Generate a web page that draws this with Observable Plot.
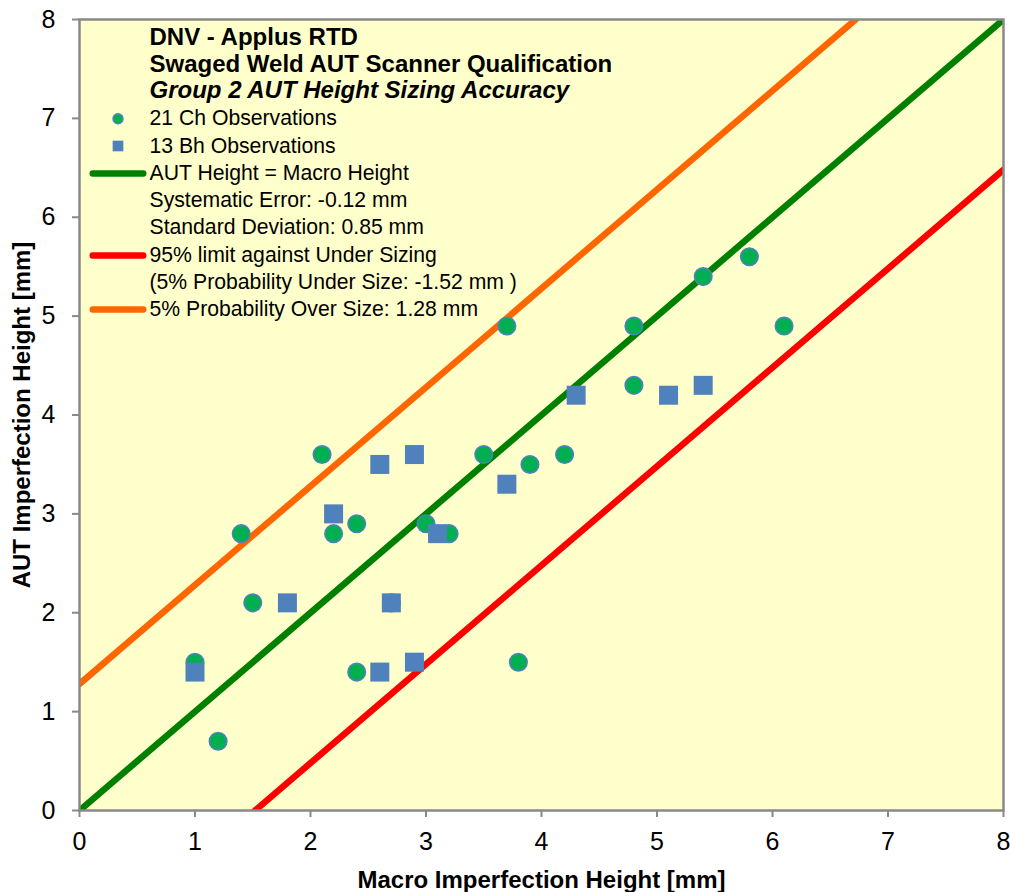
<!DOCTYPE html>
<html>
<head>
<meta charset="utf-8">
<script src="https://cdn.jsdelivr.net/npm/d3@7"></script>
<script src="https://cdn.jsdelivr.net/npm/@observablehq/plot@0.6"></script>
<style>
  html, body { margin: 0; padding: 0; background: #ffffff; }
  #chart svg { display: block; }
</style>
</head>
<body>
<div id="chart"></div>
<script>
// Group 2 height sizing: macro (true) height vs AUT measured height, in mm
const chMacro = [1.0, 1.2, 1.4, 1.5, 2.1, 2.2, 2.4, 2.4, 2.7, 3.0, 3.2, 3.5, 3.7, 3.8, 3.9, 4.2, 4.8, 4.8, 5.4, 5.8, 6.1];
const chAut   = [1.5, 0.7, 2.8, 2.1, 3.6, 2.8, 2.9, 1.4, 2.1, 2.9, 2.8, 3.6, 4.9, 1.5, 3.5, 3.6, 4.9, 4.3, 5.4, 5.6, 4.9];
const bhMacro = [1.0, 1.8, 2.2, 2.6, 2.6, 2.7, 2.9, 2.9, 3.1, 3.7, 4.3, 5.1, 5.4];
const bhAut   = [1.4, 2.1, 3.0, 3.5, 1.4, 2.1, 3.6, 1.5, 2.8, 3.3, 4.2, 4.2, 4.3];

// Sizing statistics (mm)
const systematicError = -0.12;
const standardDeviation = 0.85;
const underSizeLimit = -1.52;   // 5% probability under size
const overSizeLimit = 1.28;     // 5% probability over size

// Axis range and ticks (mm)
const axisMin = 0, axisMax = 8;
const axisTicks = [0, 1, 2, 3, 4, 5, 6, 7, 8];

// Text
const titleLines = ["DNV - Applus RTD", "Swaged Weld AUT Scanner Qualification", "Group 2 AUT Height Sizing Accuracy"];
const legendLabels = [
  "21 Ch Observations",
  "13 Bh Observations",
  "AUT Height = Macro Height",
  "Systematic Error: -0.12 mm",
  "Standard Deviation: 0.85 mm",
  "95% limit against Under Sizing",
  "(5% Probability Under Size: -1.52 mm )",
  "5% Probability Over Size: 1.28 mm"
];
const xLabel = "Macro Imperfection Height [mm]";
const yLabel = "AUT Imperfection Height [mm]";

const chPoints = chMacro.map((x, i) => ({x, y: chAut[i]}));
const bhPoints = bhMacro.map((x, i) => ({x, y: bhAut[i]}));

// Reference lines y = x + offset, cut to the axis square
function offsetLine(offset) {
  const x0 = Math.max(axisMin, axisMin - offset);
  const x1 = Math.min(axisMax, axisMax - offset);
  return [{x: x0, y: x0 + offset}, {x: x1, y: x1 + offset}];
}
const refLines = [
  {offset: 0, color: "#008000"},
  {offset: underSizeLimit, color: "#ff0000"},
  {offset: overSizeLimit, color: "#ff6600"}
];

const GREEN = "#00b050", BLUE = "#4f81bd", FRAME = "#898989";
const FONT = "'Liberation Sans', Arial, Helvetica, sans-serif";

// A horizontal stroke used as a legend swatch for the lines
const swatchSymbol = {draw(ctx) { ctx.moveTo(-25.25, 0); ctx.lineTo(25.25, 0); }};

// Vertical placement of the legend rows (pixels below the top of the frame)
const titleDy = [18.3, 45, 71.3];
const rowDy = [99.2, 127, 154, 181, 208, 236, 263, 290];
const textDx = 70, markDx = 38.5;

const marks = [
  Plot.frame({fill: "#ffffcc"}),
  ...refLines.map(l => Plot.line(offsetLine(l.offset), {
    x: "x", y: "y", stroke: l.color, strokeWidth: 6.5, strokeLinecap: "round", clip: true
  })),
  Plot.dot(chPoints, {x: "x", y: "y", r: 8.75, fill: GREEN, stroke: BLUE, strokeWidth: 1.6, symbol: "circle"}),
  Plot.dot(bhPoints, {x: "x", y: "y", r: 10.72, fill: BLUE, stroke: "none", symbol: "square"}),
  // legend title
  ...titleLines.map((t, i) => Plot.text([t], {
    frameAnchor: "top-left", dx: textDx, dy: titleDy[i], textAnchor: "start", lineAnchor: "middle",
    fontSize: 24, fontWeight: "bold", fontStyle: i === 2 ? "italic" : "normal", fill: "#000"
  })),
  // legend rows
  ...legendLabels.map((t, i) => Plot.text([t], {
    frameAnchor: "top-left", dx: textDx, dy: rowDy[i], textAnchor: "start", lineAnchor: "middle",
    fontSize: 21.2, fill: "#000"
  })),
  Plot.dot([0], {frameAnchor: "top-left", dx: markDx, dy: rowDy[0], r: 5, fill: GREEN, stroke: BLUE, strokeWidth: 1.4}),
  Plot.dot([0], {frameAnchor: "top-left", dx: markDx, dy: rowDy[1] - 0.5, r: 6.04, symbol: "square", fill: BLUE, stroke: "none"}),
  ...[[2, refLines[0].color], [5, refLines[1].color], [7, refLines[2].color]].map(([row, color]) =>
    Plot.dot([0], {frameAnchor: "top-left", dx: markDx, dy: rowDy[row], symbol: swatchSymbol,
      fill: "none", stroke: color, strokeWidth: 6.5, strokeLinecap: "round"})),
  Plot.frame({stroke: FRAME, strokeWidth: 2.5}),
  Plot.axisX({ticks: axisTicks, tickSize: 7, tickPadding: 15, tickFormat: d => String(d),
    label: null, fontSize: 25, stroke: FRAME, strokeWidth: 2}),
  Plot.axisY({ticks: axisTicks, tickSize: 7, tickPadding: 17, tickFormat: d => String(d),
    label: null, fontSize: 25, stroke: FRAME, strokeWidth: 2}),
  Plot.text([xLabel], {frameAnchor: "bottom", dy: 70, textAnchor: "middle", lineAnchor: "middle",
    fontSize: 24, fontWeight: "bold", fill: "#000"}),
  Plot.text([yLabel], {frameAnchor: "left", dx: -57.5, rotate: -90, textAnchor: "middle", lineAnchor: "middle",
    fontSize: 24, fontWeight: "bold", fill: "#000"})
];

const chart = Plot.plot({
  width: 1010,
  height: 892,
  marginLeft: 79,
  marginRight: 7,
  marginTop: 19,
  marginBottom: 82,
  style: {fontFamily: FONT, fontSize: "20px", color: "#000", background: "#ffffff"},
  x: {domain: [axisMin, axisMax]},
  y: {domain: [axisMin, axisMax]},
  marks
});
document.getElementById("chart").appendChild(chart);
</script>
</body>
</html>
